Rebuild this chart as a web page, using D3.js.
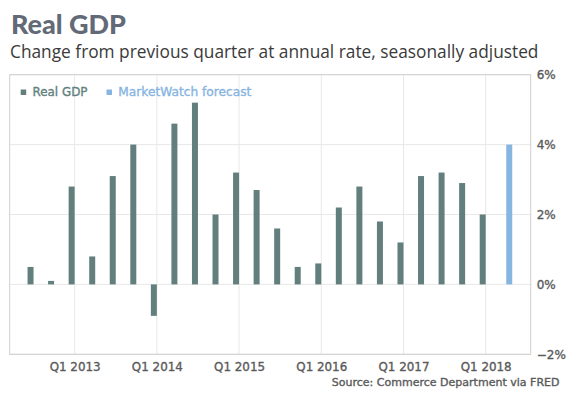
<!DOCTYPE html>
<html>
<head>
<meta charset="utf-8">
<script src="https://cdn.jsdelivr.net/npm/d3@7"></script>
<style>
  html, body { margin: 0; padding: 0; background: #fff; }
  svg { display: block; }
</style>
</head>
<body>
<svg id="chart" width="569" height="398"></svg>
<script>
const quarters = ["Q3 2012","Q4 2012","Q1 2013","Q2 2013","Q3 2013","Q4 2013",
  "Q1 2014","Q2 2014","Q3 2014","Q4 2014","Q1 2015","Q2 2015","Q3 2015","Q4 2015",
  "Q1 2016","Q2 2016","Q3 2016","Q4 2016","Q1 2017","Q2 2017","Q3 2017","Q4 2017",
  "Q1 2018","Q2 2018"];
const realGDP = [0.5, 0.1, 2.8, 0.8, 3.1, 4.0, -0.9, 4.6, 5.2, 2.0, 3.2, 2.7, 1.6, 0.5,
  0.6, 2.2, 2.8, 1.8, 1.2, 3.1, 3.2, 2.9, 2.0, null];
const forecast = [null,null,null,null,null,null,null,null,null,null,null,null,null,null,
  null,null,null,null,null,null,null,null,null,4.0];
const xTickLabels = ["Q1 2013","Q1 2014","Q1 2015","Q1 2016","Q1 2017","Q1 2018"];
const yTicks = [-2, 0, 2, 4, 6];
const seriesNames = ["Real GDP", "MarketWatch forecast"];
const colors = ["#627f7e", "#87b5e2"];

const svg = d3.select("#chart");
const L = 9.7, R = 530.7, T = 74.7, B = 354.3;
const labelFont = "'DejaVu Sans', sans-serif";

// scale a text element's font size so that it reaches a target width
function fit(sel, target) {
  sel.each(function () {
    const fs = parseFloat(this.getAttribute("font-size"));
    const w = this.getComputedTextLength();
    if (w > 0) this.setAttribute("font-size", (fs * target / w).toFixed(2));
  });
  return sel;
}
// semi-bold look: regular face with a thin outline of the same colour
function semi(sel, color) {
  return sel.attr("font-family", labelFont).attr("font-weight", 400)
    .attr("fill", color).attr("stroke", color).attr("stroke-width", 0.35)
    .attr("paint-order", "fill");
}

const x = d3.scaleLinear().domain([-1.16, 24.19]).range([L, R]);
const y = d3.scaleLinear().domain([-2, 6]).range([B, T]);
const x1 = d3.scaleBand().domain(seriesNames).range([-6, 6]).padding(0);

// Title and subtitle
fit(svg.append("text").attr("x", 11).attr("y", 33.5)
  .attr("font-family", "Lato").attr("font-weight", 900).attr("font-size", 25.5)
  .attr("fill", "#636a77").text("Real GDP"), 115);
fit(svg.append("text").attr("x", 10).attr("y", 57.5)
  .attr("font-family", "Open Sans").attr("font-weight", 400).attr("font-size", 17.5)
  .attr("fill", "#3a3a3a").text("Change from previous quarter at annual rate, seasonally adjusted"), 529);

// horizontal gridlines
const g = svg.append("g");
g.selectAll("line.hg").data(yTicks).join("line")
  .attr("x1", L).attr("x2", R)
  .attr("y1", d => y(d)).attr("y2", d => y(d))
  .attr("stroke", "#e8e8e8").attr("stroke-width", 1);

// vertical gridlines at Q1 ticks
const tickIdx = xTickLabels.map(l => quarters.indexOf(l));
g.selectAll("line.vg").data(tickIdx).join("line")
  .attr("x1", d => x(d)).attr("x2", d => x(d))
  .attr("y1", T).attr("y2", B)
  .attr("stroke", "#e8e8e8").attr("stroke-width", 1);

// plot border
svg.append("rect").attr("x", L).attr("y", T).attr("width", R - L).attr("height", B - T)
  .attr("fill", "none").attr("stroke", "#cfcfcf").attr("stroke-width", 1);

// bars
const seriesData = [realGDP, forecast];
seriesData.forEach((vals, s) => {
  const pts = vals.map((v, i) => ({ i, v })).filter(d => d.v !== null);
  svg.append("g").selectAll("rect").data(pts).join("rect")
    .attr("x", d => x(d.i) + x1(seriesNames[s]))
    .attr("width", x1.bandwidth())
    .attr("y", d => y(Math.max(0, d.v)))
    .attr("height", d => Math.abs(y(d.v) - y(0)))
    .attr("fill", colors[s]);
});

// x-axis labels
const xAxis = d3.axisBottom(x).tickValues(tickIdx)
  .tickFormat(d => quarters[d]).tickSize(0).tickPadding(8);
const xa = svg.append("g").attr("transform", `translate(0,${B})`).call(xAxis);
xa.select(".domain").remove();
semi(xa.selectAll("text").attr("font-size", 12), "#5a5a5a");
fit(xa.selectAll("text"), 51);

// y-axis labels on right
const yAxis = d3.axisRight(y).tickValues(yTicks)
  .tickFormat(d => (d < 0 ? "\u2212" + Math.abs(d) : d) + "%").tickSize(0).tickPadding(6);
const ya = svg.append("g").attr("transform", `translate(${R},0)`).call(yAxis);
ya.select(".domain").remove();
semi(ya.selectAll("text").attr("font-size", 12), "#5a5a5a");

// legend
const legend = svg.append("g");
const legendX = [20.7, 106.5];
const legendW = [55, 133];
seriesNames.forEach((name, s) => {
  legend.append("rect").attr("x", legendX[s]).attr("y", 89.5)
    .attr("width", 5.5).attr("height", 5.5).attr("fill", colors[s]);
  fit(semi(legend.append("text").attr("x", legendX[s] + 11.8).attr("y", 95.5)
    .attr("font-size", 12).text(name), colors[s]), legendW[s]);
});

// source
fit(semi(svg.append("text").attr("x", 559.5).attr("y", 386).attr("text-anchor", "end")
  .attr("font-size", 12).text("Source: Commerce Department via FRED"), "#5a5a5a"), 228);
</script>
</body>
</html>
